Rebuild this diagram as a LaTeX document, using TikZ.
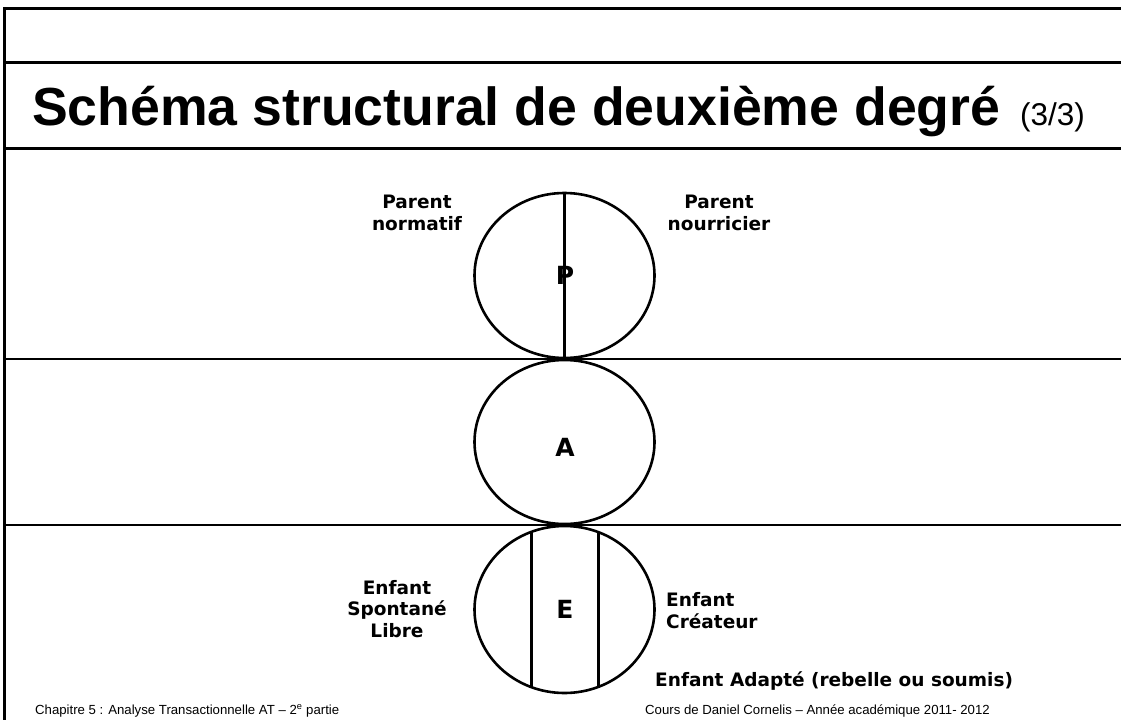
\documentclass[tikz,border=0pt]{standalone}
\usepackage{fontspec}
\setmainfont{Liberation Sans}
\newfontfamily\labfont{DejaVu Sans}
\usetikzlibrary{shapes.geometric}
\begin{document}
\begin{tikzpicture}[x=1pt,y=-1pt,
  egostate/.style={ellipse,draw,line width=2.6pt,minimum width=180pt,inner sep=0pt},
  rulethick/.style={line width=3pt},
  rulethin/.style={line width=2.2pt},
  divider/.style={line width=3pt},
  lab/.style={font=\labfont\bfseries\fontsize{18.5}{21.5}\selectfont,align=center,inner sep=0pt},
  letter/.style={font=\labfont\bfseries\fontsize{25}{25}\selectfont,inner sep=0pt},
  foot/.style={font=\fontsize{13.2}{15}\selectfont,inner sep=0pt}]
\useasboundingbox (0,0) rectangle (1121,720);
% frame and rules
\draw[rulethick] (1121,8) -- (4,8) -- (4,720);
\draw[rulethick] (4,62) -- (1121,62);
\draw[rulethick] (4,148) -- (1121,148);
\draw[rulethin] (4,359) -- (1121,359);
\draw[rulethin] (4,525) -- (1121,525);
% title
\node[anchor=base west,inner sep=0pt,font=\bfseries\fontsize{53.6}{60}\selectfont] (title) at (32,125) {Schéma structural de deuxième degré};
\node[anchor=base west,inner sep=0pt,font=\fontsize{31.5}{36}\selectfont] (part) at (1020,125) {(3/3)};
% ego states
\node[egostate,minimum height=165pt] (P) at (564.5,275.5) {};
\node[egostate,minimum height=164pt] (A) at (564.5,442) {};
\node[egostate,minimum height=167pt] (E) at (564.5,609.5) {};
\draw[divider] (P.north) -- (P.south);
\coordinate (e1t) at (531,532);
\coordinate (e1b) at (531,687);
\coordinate (e2t) at (598,532);
\coordinate (e2b) at (598,687);
\draw[divider] (e1t) -- (e1b);
\draw[divider] (e2t) -- (e2b);
\node[letter] (Pl) at (565,275) {P};
\node[letter] (Al) at (565,447) {A};
\node[letter] (El) at (565,609) {E};
% labels
\node[lab,anchor=base] (pn) at (417,230) {Parent\\normatif};
\node[lab,anchor=base] (pr) at (719,230) {Parent\\nourricier};
\node[lab,anchor=base] (es) at (397,637) {Enfant\\Spontané\\Libre};
\node[lab,anchor=base west,align=left] (ec) at (666,628) {Enfant\\Créateur};
\node[lab,anchor=base west] (ea) at (655,686) {Enfant Adapté (rebelle ou soumis)};
% footer
\node[foot,anchor=base west] (f1) at (35,714) {Chapitre 5 : Analyse Transactionnelle AT – 2\textsuperscript{e} partie};
\node[foot,anchor=base east] (f2) at (990,714) {Cours de Daniel Cornelis – Année académique 2011- 2012};
\end{tikzpicture}
\end{document}
